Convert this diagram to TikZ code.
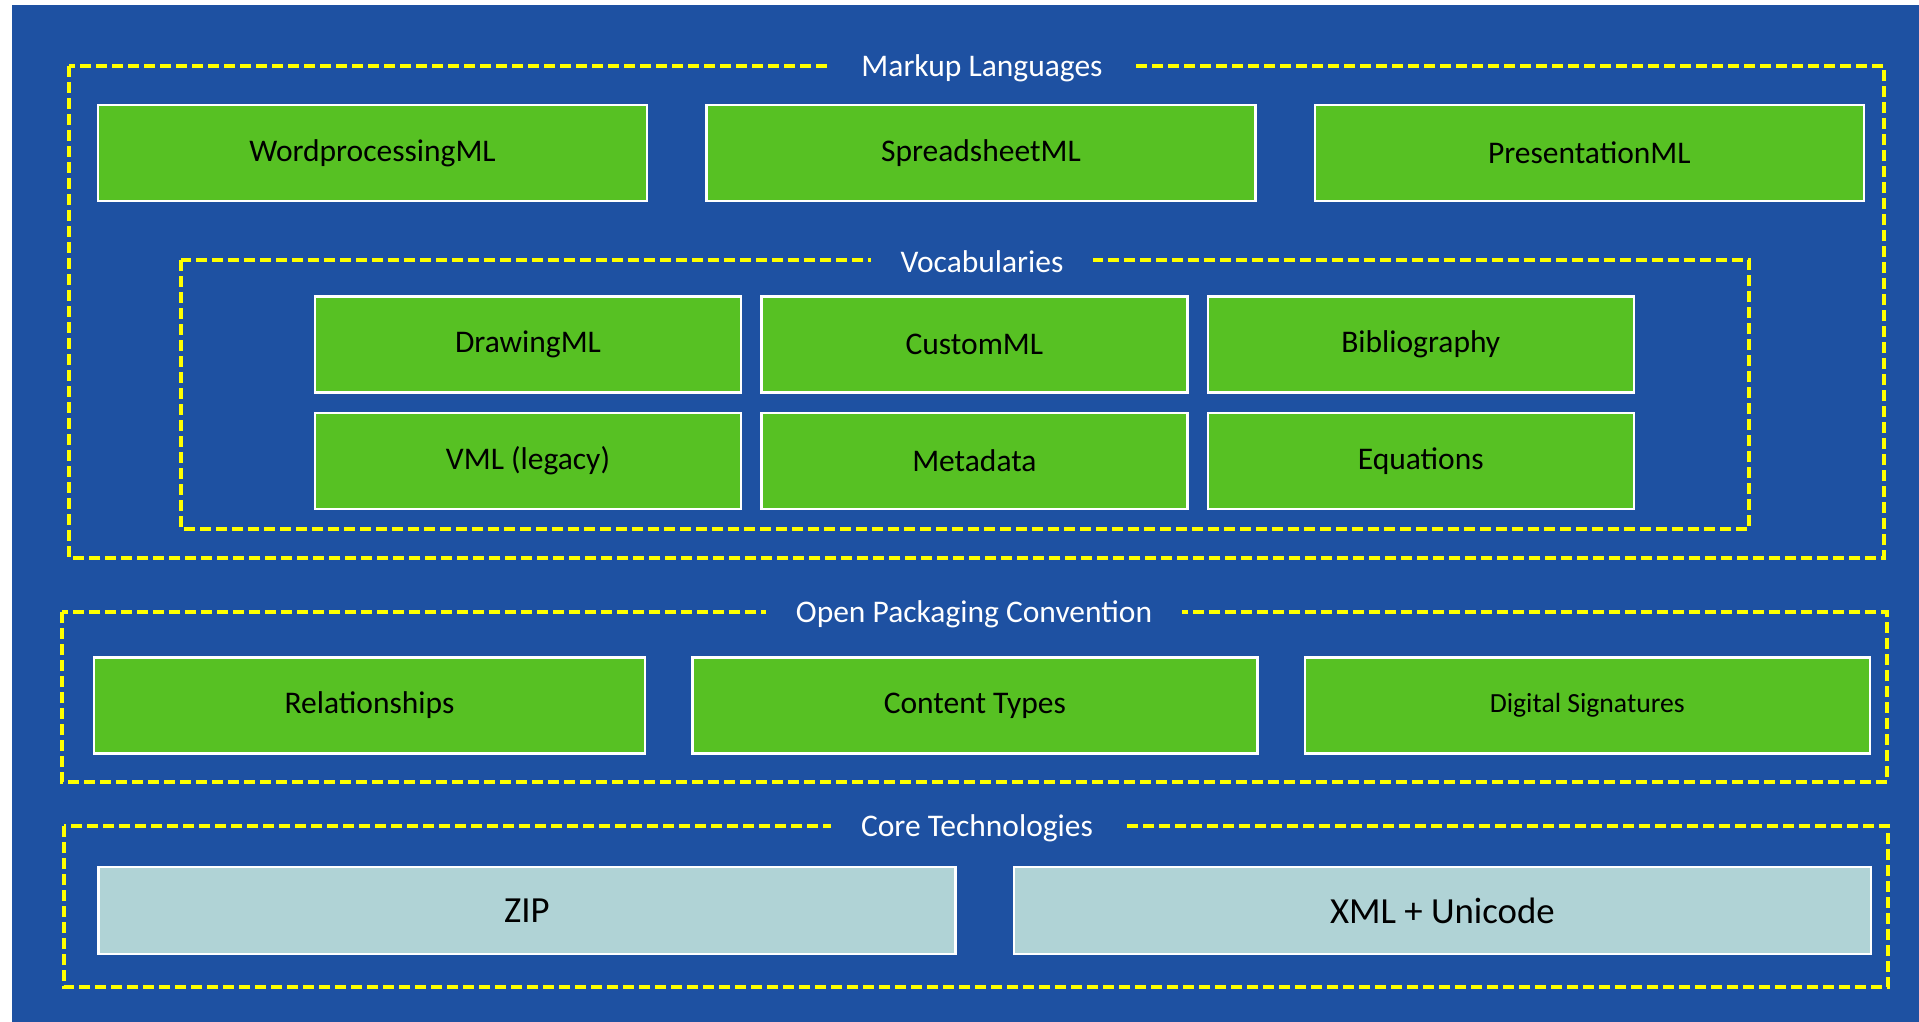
\documentclass[tikz,border=0pt]{standalone}
\usepackage{fontspec}
\setmainfont{Carlito}
\usetikzlibrary{chains,positioning}
\definecolor{bgblue}{RGB}{30,81,162}
\definecolor{mlgreen}{RGB}{87,193,35}
\definecolor{coregrey}{RGB}{176,211,214}
\definecolor{dashyellow}{RGB}{255,255,0}

\begin{document}
\begin{tikzpicture}[
    x=0.5pt, y=-0.5pt,
    % define styles
    layerframe/.style={
        draw=dashyellow,
        line width=2pt,
        dash pattern=on 5.5pt off 2.5pt
    },
    layertitle/.style={
        fill=bgblue,
        text=white,
        inner xsep=15pt,
        inner ysep=1pt,
        font=\fontsize{15.75}{18}\selectfont
    },
    mlbox/.style={
        draw=white,
        line width=1.2pt,
        fill=mlgreen,
        minimum height=48pt,
        font=\fontsize{15.75}{18}\selectfont,
        on chain
    },
    corebox/.style={
        draw=white,
        line width=1.2pt,
        fill=coregrey,
        minimum height=43.5pt,
        font=\fontsize{18.4}{21}\selectfont,
        on chain
    }
]
% Background
\fill[white] (0,0) rectangle (1919,1022);
\fill[bgblue] (12,5) rectangle (1919,1022);
\useasboundingbox (0,0) rectangle (1919,1022);

% Dashed layer frames
\draw[layerframe] (69,66) rectangle (1884,558);
\draw[layerframe] (181,260) rectangle (1749,529);
\draw[layerframe] (62,612) rectangle (1887,782);
\draw[layerframe] (64,826) rectangle (1888,987);

% Frame titles
\node[layertitle] at (982,68) (markup) {Markup Languages};
\node[layertitle] at (982,262) (vocab) {Vocabularies};
\node[layertitle] at (974,614) (opc) {Open Packaging Convention};
\node[layertitle] at (977,828) (core) {Core Technologies};

% Markup languages row
\begin{scope}[start chain=going right, node distance=28.5pt, minimum width=274.5pt]
    \node[mlbox] at (372.5,153) (wordml) {WordprocessingML};
    \node[mlbox] (sheetml) {SpreadsheetML};
    \node[mlbox] (presml) {PresentationML};
\end{scope}
% Vocabularies, top row
\begin{scope}[start chain=going right, node distance=9pt, minimum width=213pt]
    \node[mlbox] at (528,344.5) (drawml) {DrawingML};
    \node[mlbox] (customml) {CustomML};
    \node[mlbox] (biblio) {Bibliography};
\end{scope}
% Vocabularies, bottom row
\begin{scope}[start chain=going right, node distance=9pt, minimum width=213pt]
    \node[mlbox] at (528,461) (vml) {VML (legacy)};
    \node[mlbox] (meta) {Metadata};
    \node[mlbox] (equations) {Equations};
\end{scope}
% Open packaging row
\begin{scope}[start chain=going right, node distance=22.5pt, minimum width=282.5pt]
    \node[mlbox,minimum width=275.5pt] at (369.5,705.5) (rels) {Relationships};
    \node[mlbox] (ctypes) {Content Types};
    \node[mlbox,font=\fontsize{13.85}{16}\selectfont] (digsig) {Digital Signatures};
\end{scope}
% Core technologies row
\begin{scope}[start chain=going right, node distance=28pt, minimum width=428.5pt]
    \node[corebox] at (527,910.5) (zip) {ZIP};
    \node[corebox] (xml) {XML + Unicode};
\end{scope}
\end{tikzpicture}
\end{document}
